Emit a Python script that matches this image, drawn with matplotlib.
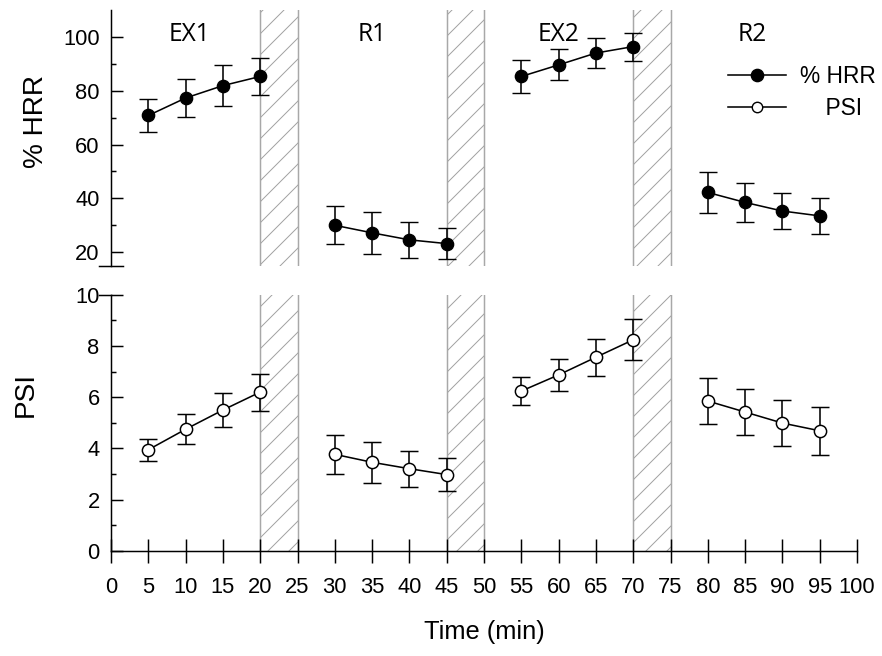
import matplotlib
matplotlib.use("Agg")
import matplotlib.pyplot as plt
from matplotlib.lines import Line2D
from matplotlib.ticker import MultipleLocator, FixedLocator

# Phases of the protocol and sampling times (min)
phase_names = ["EX1", "R1", "EX2", "R2"]
phase_name_x = [10.5, 35, 60, 86]
phase_times = [
    [5, 10, 15, 20],
    [30, 35, 40, 45],
    [55, 60, 65, 70],
    [80, 85, 90, 95],
]

# Heart rate reserve (%), mean and SD per phase
hrr_mean = [
    [70.8, 77.3, 81.9, 85.3],
    [30.0, 27.2, 24.6, 23.2],
    [85.3, 89.6, 94.0, 96.4],
    [42.2, 38.5, 35.3, 33.5],
]
hrr_sd = [
    [6.3, 7.2, 7.5, 7.0],
    [7.0, 7.9, 6.8, 5.9],
    [6.0, 5.8, 5.5, 5.2],
    [7.7, 7.3, 6.7, 6.7],
]

# Physiological strain index, mean and SD per phase
psi_mean = [
    [3.95, 4.75, 5.50, 6.20],
    [3.77, 3.46, 3.21, 2.98],
    [6.24, 6.87, 7.56, 8.24],
    [5.85, 5.42, 4.99, 4.69],
]
psi_sd = [
    [0.42, 0.58, 0.65, 0.72],
    [0.76, 0.80, 0.70, 0.65],
    [0.55, 0.63, 0.72, 0.80],
    [0.89, 0.90, 0.90, 0.93],
]

# Transition periods between phases (hatched)
transition_bands = [(20, 25), (45, 50), (70, 75)]

legend_labels = ["% HRR", "    PSI"]

DPI = 126
plt.rcParams["font.family"] = ["Liberation Sans", "DejaVu Sans"]
plt.rcParams["hatch.linewidth"] = 0.55

fig = plt.figure(figsize=(882 / DPI, 656 / DPI), dpi=DPI)
ax_top = fig.add_axes([0.1259, 0.595, 0.8458, 0.3898])
ax_bot = fig.add_axes([0.1259, 0.1601, 0.8458, 0.3907], sharex=ax_top)

LW = 0.9
MS = 7.0
CAP = 5.0
HATCH_GRAY = "#a0a0a0"

for ax in (ax_top, ax_bot):
    for lo, hi in transition_bands:
        ax.axvspan(lo, hi, facecolor="none", edgecolor=HATCH_GRAY,
                   linewidth=0, hatch="//", zorder=1)
        ax.axvline(lo, color="#a8a8a8", lw=0.85, zorder=1.1)
        ax.axvline(hi, color="#a8a8a8", lw=0.85, zorder=1.1)
    for side in ("top", "right"):
        ax.spines[side].set_visible(False)
    ax.spines["left"].set_linewidth(0.85)
    ax.spines["bottom"].set_linewidth(0.85)

# Top panel: %HRR
for t, m, s in zip(phase_times, hrr_mean, hrr_sd):
    ax_top.errorbar(t, m, yerr=s, fmt="-o", color="black", lw=LW,
                    elinewidth=LW, capsize=CAP, capthick=LW,
                    ms=MS, mfc="black", mec="black", mew=0.8, zorder=3)

# Bottom panel: PSI
for t, m, s in zip(phase_times, psi_mean, psi_sd):
    ax_bot.errorbar(t, m, yerr=s, fmt="-o", color="black", lw=LW,
                    elinewidth=LW, capsize=CAP, capthick=LW,
                    ms=MS, mfc="white", mec="black", mew=0.85, zorder=3)

ax_top.set_xlim(0, 100)
ax_top.set_ylim(15, 110)
ax_top.yaxis.set_major_locator(FixedLocator([20, 40, 60, 80, 100]))
ax_top.yaxis.set_minor_locator(FixedLocator([30, 50, 70, 90]))
ax_top.spines["bottom"].set_visible(False)
ax_top.tick_params(axis="x", which="both", bottom=False, labelbottom=False)

ax_bot.set_ylim(0, 10)
ax_bot.yaxis.set_major_locator(MultipleLocator(2))
ax_bot.yaxis.set_minor_locator(FixedLocator([1, 3, 5, 7, 9]))
ax_bot.xaxis.set_major_locator(MultipleLocator(5))

for ax in (ax_top, ax_bot):
    ax.tick_params(axis="y", which="major", direction="in", length=6.7,
                   width=0.85, labelsize=12.5, pad=6.5)
    ax.tick_params(axis="y", which="minor", direction="in", length=2.9,
                   width=0.85)
ax_bot.tick_params(axis="x", which="major", direction="inout", length=13.7,
                   width=0.85, labelsize=12.5, pad=8)

# Axis-break caps at the inner ends of the two y axes
ax_top.plot([-0.016, 0.016], [0, 0], transform=ax_top.transAxes,
            color="black", lw=0.85, clip_on=False, zorder=5)
ax_bot.plot([-0.016, 0.0], [1, 1], transform=ax_bot.transAxes,
            color="black", lw=0.85, clip_on=False, zorder=5)

ax_top.set_ylabel("% HRR", fontsize=16)
ax_top.yaxis.set_label_coords(-0.0835, 0.562)
ax_bot.set_ylabel("PSI", fontsize=16)
ax_bot.yaxis.set_label_coords(-0.0965, 0.609)
ax_bot.set_xlabel("Time (min)", fontsize=14.5)
ax_bot.xaxis.set_label_coords(0.5, -0.268)

for name, x in zip(phase_names, phase_name_x):
    ax_top.text(x, 98.3, name, ha="center", va="baseline",
                fontsize=14, family=["Open Sans", "DejaVu Sans"])

handles = [
    Line2D([], [], color="black", lw=LW, marker="o", ms=MS,
           mfc="black", mec="black", mew=0.8),
    Line2D([], [], color="black", lw=LW, marker="o", ms=MS * 0.85,
           mfc="white", mec="black", mew=0.8),
]
ax_top.legend(handles, legend_labels, loc="center left",
              bbox_to_anchor=(0.827, 0.677), frameon=False, borderpad=0,
              borderaxespad=0, handlelength=2.55, handletextpad=0.6,
              labelspacing=0.42, fontsize=13)

fig.savefig("out.png", dpi=DPI)
